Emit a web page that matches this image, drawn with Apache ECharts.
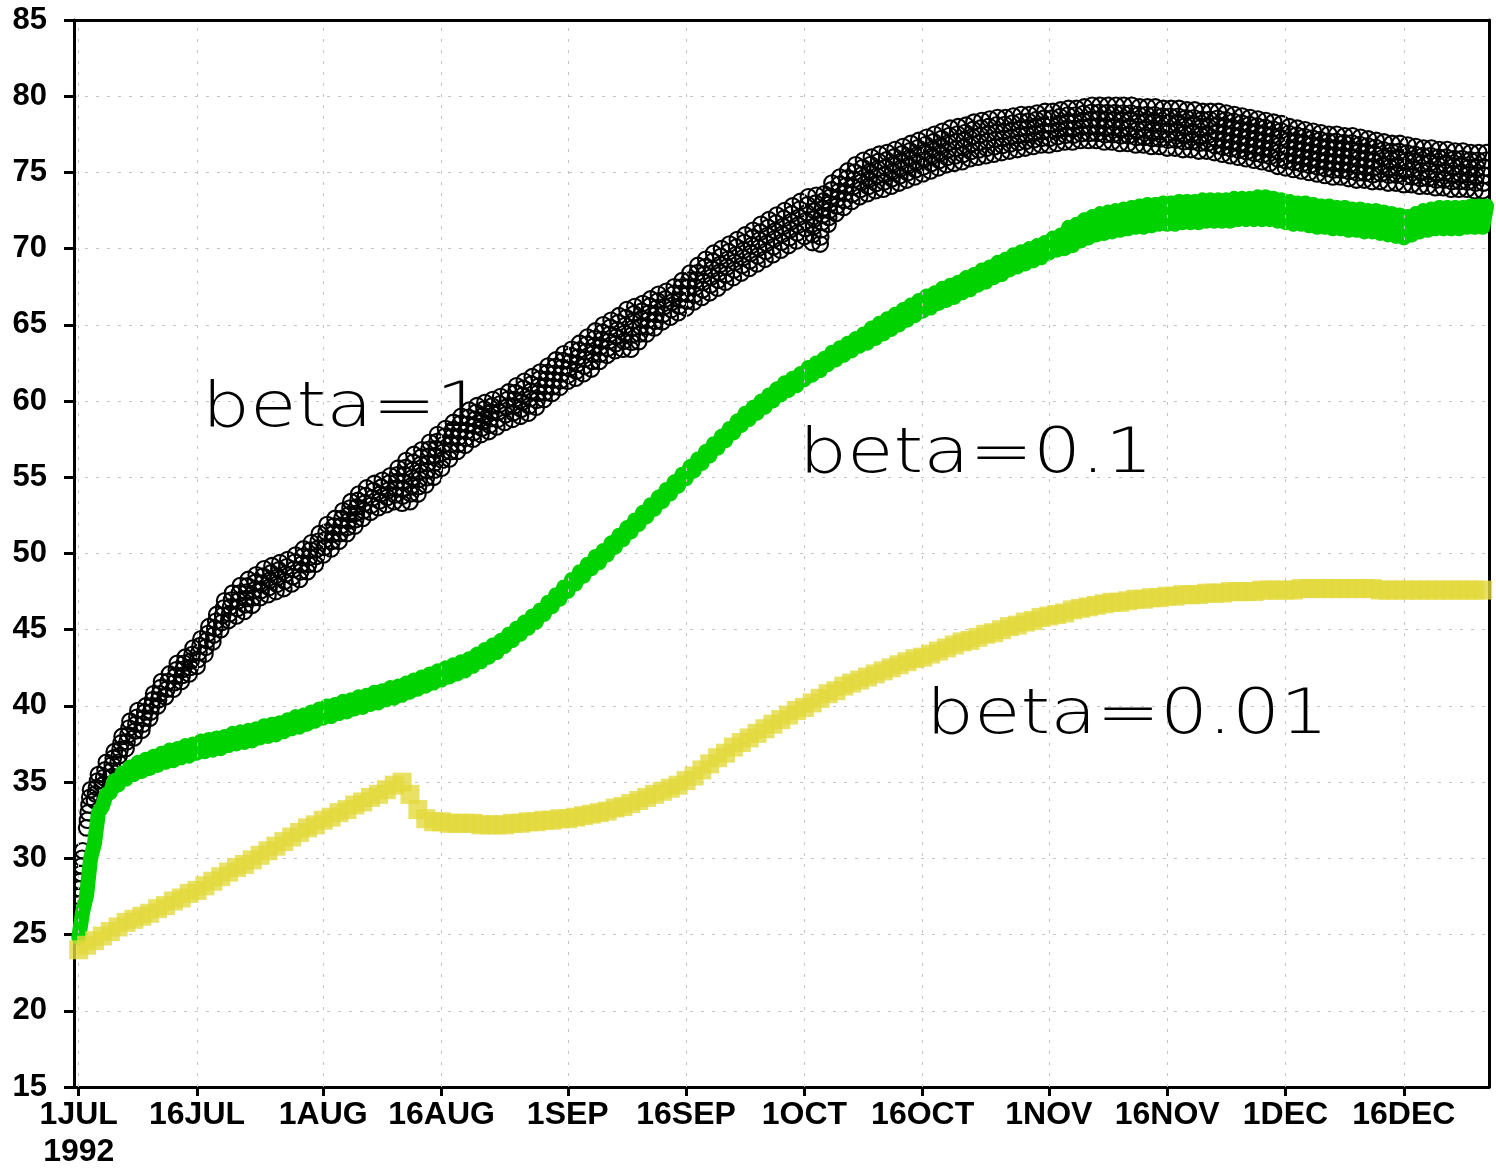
<!DOCTYPE html>
<html>
<head>
<meta charset="utf-8">
<script src="https://cdn.jsdelivr.net/npm/echarts@6/dist/echarts.min.js"></script>
<style>
  html, body { margin: 0; padding: 0; background: #fff; }
  #chart { width: 1496px; height: 1171px; }
</style>
</head>
<body>
<div id="chart"></div>
<script>
// Time axis: days since 1 Jul 1992 00Z
const tickDays = [0, 15, 31, 46, 62, 77, 92, 107, 123, 138, 153, 168];
const tickLabels = ['1JUL\n1992', '16JUL', '1AUG', '16AUG', '1SEP', '16SEP',
                    '1OCT', '16OCT', '1NOV', '16NOV', '1DEC', '16DEC'];

// beta=1 : daily low (00Z) and high (12Z) values
const beta1Lo = [27.0,32.0,33.8,34.8,35.3,36.3,37.2,37.9,38.4,39.2,
 40.0,40.6,41.1,41.6,42.1,42.6,43.4,44.2,45.0,45.6,
 45.9,46.2,46.6,47.1,47.3,47.5,47.7,48.0,48.3,48.8,
 49.3,49.9,50.3,50.8,51.3,51.8,52.3,52.7,53.0,53.2,
 53.4,53.3,53.4,53.9,54.5,55.0,55.6,56.2,56.7,57.1,
 57.5,57.8,58.0,58.3,58.6,58.8,59.0,59.2,59.6,60.1,
 60.5,60.9,61.3,61.5,61.8,62.1,62.6,63.0,63.3,63.4,
 63.4,63.9,64.4,64.8,65.2,65.5,65.8,66.1,66.5,66.8,
 67.1,67.4,67.8,68.1,68.4,68.7,69.0,69.3,69.6,69.9,
 70.2,70.5,70.8,70.4,70.3,71.6,72.3,72.7,73.1,73.4,
 73.6,73.8,73.9,74.1,74.3,74.5,74.7,74.9,75.1,75.3,
 75.5,75.6,75.7,75.9,76.0,76.1,76.2,76.3,76.4,76.5,
 76.6,76.7,76.8,76.8,76.9,77.0,77.0,77.1,77.1,77.1,
 77.0,77.0,76.9,76.9,76.8,76.8,76.7,76.7,76.6,76.6,
 76.5,76.5,76.4,76.4,76.3,76.2,76.1,76.0,75.9,75.8,
 75.7,75.6,75.4,75.3,75.2,75.1,75.0,74.9,74.8,74.7,
 74.7,74.6,74.5,74.5,74.4,74.4,74.3,74.3,74.2,74.2,
 74.1,74.1,74.0,74.0,73.9,73.9,73.9,73.8,73.8];
const beta1Hi = [30.5,34.5,35.5,36.3,37.0,38.0,39.0,39.7,40.0,40.8,
 41.6,42.1,42.8,43.2,43.8,44.4,45.2,46.0,46.9,47.4,
 47.9,48.3,48.6,49.0,49.2,49.4,49.6,49.9,50.3,50.7,
 51.3,51.9,52.3,52.8,53.4,53.9,54.3,54.6,54.8,55.1,
 55.6,56.1,56.5,56.8,57.3,57.8,58.2,58.6,59.0,59.4,
 59.7,59.9,60.1,60.3,60.6,61.0,61.3,61.6,61.9,62.3,
 62.7,63.1,63.4,63.8,64.2,64.6,65.0,65.3,65.6,66.0,
 66.2,66.4,66.7,67.0,67.2,67.5,67.9,68.4,68.9,69.3,
 69.7,70.0,70.3,70.6,70.9,71.2,71.6,71.9,72.2,72.5,
 72.8,73.1,73.4,73.5,73.6,74.3,74.7,75.1,75.5,75.8,
 76.0,76.2,76.3,76.5,76.7,76.9,77.1,77.3,77.5,77.7,
 77.9,78.0,78.1,78.3,78.4,78.5,78.6,78.6,78.7,78.8,
 78.8,78.9,79.0,79.0,79.1,79.2,79.2,79.3,79.4,79.4,
 79.4,79.4,79.4,79.4,79.3,79.3,79.3,79.2,79.2,79.2,
 79.1,79.1,79.0,79.0,79.0,78.9,78.8,78.7,78.6,78.5,
 78.4,78.3,78.2,78.0,77.9,77.8,77.7,77.6,77.5,77.5,
 77.4,77.4,77.3,77.2,77.1,77.0,76.9,76.9,76.8,76.7,
 76.6,76.6,76.5,76.5,76.4,76.4,76.3,76.3,76.3];

// beta=0.1 : daily low (00Z) and high (12Z) values
const beta01Lo = [24.8,27.6,31.0,33.4,34.3,34.8,35.2,35.5,35.7,35.9,
 36.1,36.3,36.4,36.6,36.7,36.9,37.0,37.1,37.2,37.4,
 37.5,37.6,37.7,37.9,38.0,38.1,38.3,38.5,38.6,38.8,
 39.0,39.2,39.3,39.5,39.6,39.8,39.9,40.1,40.2,40.4,
 40.5,40.7,40.9,41.1,41.3,41.5,41.7,41.9,42.1,42.3,
 42.6,42.9,43.2,43.5,43.9,44.3,44.7,45.1,45.5,46.0,
 46.5,47.0,47.5,48.0,48.5,49.0,49.4,49.9,50.4,50.9,
 51.4,51.9,52.4,52.9,53.4,53.9,54.4,54.9,55.4,55.9,
 56.4,56.9,57.4,57.9,58.4,58.8,59.2,59.6,60.0,60.4,
 60.7,61.0,61.4,61.7,62.0,62.4,62.7,63.0,63.3,63.6,
 63.8,64.1,64.4,64.7,65.0,65.3,65.6,65.9,66.1,66.4,
 66.6,66.8,67.1,67.3,67.6,67.8,68.1,68.3,68.6,68.8,
 69.0,69.2,69.4,69.7,69.9,70.0,70.2,70.5,70.7,70.9,
 71.0,71.1,71.2,71.3,71.4,71.4,71.5,71.6,71.6,71.6,
 71.7,71.7,71.7,71.8,71.8,71.8,71.8,71.9,71.9,71.9,
 71.9,71.9,71.8,71.7,71.6,71.6,71.5,71.4,71.4,71.3,
 71.3,71.2,71.2,71.1,71.1,71.0,70.9,70.8,70.7,70.9,
 71.1,71.2,71.3,71.3,71.3,71.3,71.4,71.4,71.4];
const beta01Hi = [26.5,30.0,33.0,34.2,35.1,35.6,36.0,36.3,36.5,36.7,
 36.9,37.1,37.2,37.4,37.5,37.7,37.8,37.9,38.0,38.2,
 38.3,38.4,38.5,38.7,38.8,38.9,39.1,39.3,39.4,39.6,
 39.8,40.0,40.1,40.3,40.4,40.6,40.7,40.9,41.0,41.2,
 41.3,41.5,41.7,41.9,42.1,42.3,42.5,42.7,42.9,43.1,
 43.4,43.7,44.0,44.3,44.7,45.1,45.5,45.9,46.3,46.8,
 47.3,47.8,48.3,48.8,49.3,49.8,50.2,50.7,51.2,51.7,
 52.2,52.7,53.2,53.7,54.2,54.7,55.2,55.7,56.2,56.7,
 57.2,57.7,58.2,58.7,59.2,59.6,60.0,60.4,60.8,61.2,
 61.5,61.8,62.2,62.5,62.8,63.2,63.5,63.8,64.1,64.4,
 64.8,65.1,65.4,65.7,66.0,66.3,66.6,66.9,67.1,67.4,
 67.6,67.8,68.1,68.3,68.6,68.8,69.1,69.3,69.6,69.8,
 70.0,70.2,70.4,70.7,70.9,71.4,71.6,71.9,72.1,72.3,
 72.4,72.5,72.6,72.7,72.8,72.9,72.9,73.0,73.0,73.1,
 73.1,73.1,73.2,73.2,73.2,73.2,73.3,73.3,73.3,73.4,
 73.4,73.3,73.2,73.1,73.0,73.0,72.9,72.8,72.8,72.7,
 72.7,72.6,72.6,72.5,72.5,72.4,72.3,72.2,72.1,72.3,
 72.5,72.6,72.7,72.7,72.7,72.7,72.8,72.8,72.8];

// beta=0.01 : daily values
const beta001 = [24.0,24.3,24.6,24.9,25.2,25.5,25.8,26.0,26.2,26.4,
 26.7,26.9,27.2,27.4,27.7,27.9,28.2,28.5,28.8,29.1,
 29.4,29.6,29.9,30.2,30.5,30.8,31.1,31.4,31.7,32.0,
 32.2,32.5,32.7,33.0,33.2,33.5,33.7,34.0,34.2,34.5,
 34.8,35.0,34.2,33.2,32.6,32.4,32.4,32.3,32.3,32.3,
 32.3,32.2,32.2,32.2,32.2,32.3,32.3,32.4,32.4,32.5,
 32.5,32.6,32.6,32.7,32.8,32.9,33.0,33.1,33.3,33.4,
 33.6,33.8,34.0,34.2,34.4,34.6,34.8,35.1,35.4,35.8,
 36.2,36.6,36.9,37.3,37.6,37.9,38.2,38.5,38.8,39.1,
 39.4,39.7,39.9,40.2,40.5,40.8,41.0,41.3,41.5,41.7,
 41.9,42.1,42.3,42.5,42.7,42.9,43.1,43.2,43.4,43.6,
 43.8,44.0,44.2,44.3,44.5,44.7,44.8,45.0,45.2,45.3,
 45.5,45.6,45.8,45.9,46.0,46.1,46.3,46.4,46.5,46.6,
 46.7,46.8,46.8,46.9,47.0,47.0,47.1,47.1,47.2,47.2,
 47.3,47.3,47.3,47.4,47.4,47.4,47.5,47.5,47.5,47.5,
 47.6,47.6,47.6,47.6,47.6,47.7,47.7,47.7,47.7,47.7,
 47.7,47.7,47.7,47.7,47.7,47.6,47.6,47.6,47.6,47.6,
 47.6,47.6,47.6,47.6,47.6,47.6,47.6,47.6,47.6];

// [day, value] pairs: 00Z low then 12Z high for each day
function twiceDaily(lo, hi) {
  const pts = [];
  for (let d = 0; d < lo.length; d++) {
    pts.push([d, lo[d]]);
    pts.push([d + 0.5, hi[d]]);
  }
  return pts;
}
// [day, low, high] items for the ring columns
function dailyRange(lo, hi) {
  return lo.map((v, d) => [d, v, hi[d]]);
}
function daily(vals) {
  return vals.map((v, d) => [d, v]);
}

// Each day's low->high swing drawn as a chain of open rings
function ringColumn(params, api) {
  const d = api.value(0);
  const p0 = api.coord([d, api.value(1)]);
  const p1 = api.coord([d + 0.5, api.value(2)]);
  const len = Math.hypot(p1[0] - p0[0], p1[1] - p0[1]);
  const n = Math.max(2, Math.ceil(len / 8) + 1);
  const children = [];
  for (let k = 0; k < n; k++) {
    const t = k / (n - 1);
    children.push({
      type: 'circle',
      shape: { cx: p0[0] + (p1[0] - p0[0]) * t, cy: p0[1] + (p1[1] - p0[1]) * t, r: 7.8 },
      style: { fill: 'none', stroke: '#000', lineWidth: 2.1 }
    });
  }
  return { type: 'group', children: children };
}

const labelFamily = '"Liberation Sans", Arial, sans-serif';
const noteFont = '200 62px "DejaVu Sans", sans-serif';
const gridLine = { color: '#c4c4c4', width: 1, type: [3, 8] };
const frame = { show: true, onZero: false, lineStyle: { color: '#000', width: 3 } };

const chart = echarts.init(document.getElementById('chart'), null, { renderer: 'canvas' });
chart.setOption({
  animation: false,
  backgroundColor: '#fff',
  grid: { left: 74, right: 7, top: 20, bottom: 81 },
  xAxis: [
    {
      type: 'value',
      min: -0.6,
      max: 178.8,
      axisLine: frame,
      axisTick: { customValues: tickDays, length: 9, lineStyle: { color: '#000', width: 3 } },
      axisLabel: {
        customValues: tickDays,
        margin: 10,
        lineHeight: 37,
        fontFamily: labelFamily,
        fontSize: 32,
        fontWeight: 'bold',
        color: '#000',
        formatter: (v) => tickLabels[tickDays.indexOf(Math.round(v))] || ''
      },
      splitLine: { show: false }
    },
    {
      // top edge of the frame
      type: 'value', position: 'top', min: -0.6, max: 178.8,
      axisLine: frame, axisTick: { show: false }, axisLabel: { show: false }, splitLine: { show: false }
    }
  ],
  yAxis: [
    {
      type: 'value',
      min: 15,
      max: 85,
      interval: 5,
      axisLine: frame,
      axisTick: { length: 10, lineStyle: { color: '#000', width: 3 } },
      axisLabel: { margin: 27, fontFamily: labelFamily, fontSize: 31, fontWeight: 'bold', color: '#000' },
      splitLine: { show: true, lineStyle: gridLine }
    },
    {
      // right edge of the frame
      type: 'value', position: 'right', min: 15, max: 85, interval: 5,
      axisLine: frame, axisTick: { show: false }, axisLabel: { show: false }, splitLine: { show: false }
    }
  ],
  graphic: [
    { type: 'text', x: 202, y: 410, scaleX: 1.22, z: 10, style: { text: 'beta=1', font: noteFont, fill: '#000', verticalAlign: 'middle' } },
    { type: 'text', x: 799, y: 456, scaleX: 1.22, z: 10, style: { text: 'beta=0.1', font: noteFont, fill: '#000', verticalAlign: 'middle' } },
    { type: 'text', x: 926, y: 717, scaleX: 1.22, z: 10, style: { text: 'beta=0.01', font: noteFont, fill: '#000', verticalAlign: 'middle' } }
  ],
  series: [
    {
      // vertical dotted grid at the date ticks
      type: 'line',
      data: [],
      z: 1,
      silent: true,
      markLine: {
        silent: true,
        symbol: 'none',
        label: { show: false },
        lineStyle: gridLine,
        data: tickDays.map(d => ({ xAxis: d }))
      }
    },
    {
      name: 'beta=1',
      type: 'custom',
      z: 3,
      clip: true,
      renderItem: ringColumn,
      encode: { x: 0, y: [1, 2] },
      data: dailyRange(beta1Lo, beta1Hi)
    },
    {
      name: 'beta=0.1',
      type: 'line',
      z: 4,
      showSymbol: false,
      clip: true,
      lineStyle: { color: '#00d200', width: 15, cap: 'round', join: 'round' },
      data: twiceDaily(beta01Lo, beta01Hi)
    },
    {
      name: 'beta=0.01',
      type: 'scatter',
      z: 5,
      symbol: 'rect',
      symbolSize: 19,
      itemStyle: { color: '#e2d93c' },
      data: daily(beta001)
    }
  ]
});
</script>
</body>
</html>
